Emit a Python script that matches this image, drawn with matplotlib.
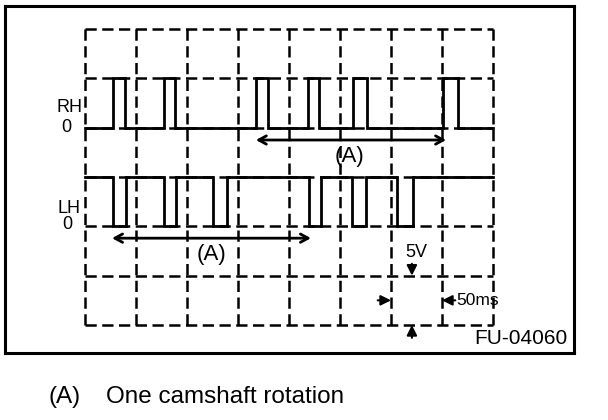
import matplotlib
matplotlib.use('Agg')
import matplotlib.pyplot as plt

plt.rcParams['font.family'] = ['Liberation Sans', 'DejaVu Sans']

# ── Data (grid divisions: 8 x 50ms, 6 x 5V) ──
n_cols = 8
n_rows = 6
rh_zero, rh_high = 4, 5
lh_zero, lh_high = 2, 3
# RH: short high pulses (rise, fall)
rh_pulses = [(0.54, 0.79), (1.54, 1.77), (3.35, 3.59), (4.37, 4.59),
             (5.25, 5.53), (7.02, 7.31)]
# LH: short low pulses (fall, rise)
lh_pulses = [(0.54, 0.80), (1.54, 1.78), (2.51, 2.78), (4.39, 4.63),
             (5.24, 5.51), (6.12, 6.43)]
rh_span = (3.35, 7.08)   # one camshaft rotation, RH
lh_span = (0.53, 4.43)   # one camshaft rotation, LH


def square_wave(pulses, idle, active, x_end):
    xs, ys = [0], [idle]
    for a, b in pulses:
        xs += [a, a, b, b]
        ys += [idle, active, active, idle]
    xs.append(x_end)
    ys.append(idle)
    return xs, ys


fig = plt.figure(figsize=(6.08, 4.2), dpi=100)
ax = fig.add_axes([5 / 608, 1 - 353 / 420, 569 / 608, 347 / 420])
ax.set_xlim(-80 / 51, 489 / 51)
ax.set_ylim(-28 / 49.33, 319 / 49.33)
ax.set_xticks([])
ax.set_yticks([])
for s in ax.spines.values():
    s.set_linewidth(2.2)

# dashed scope grid
dash = (0, (4.5, 2.2))
ax.vlines(range(n_cols + 1), 0, n_rows, colors='black', linewidth=1.8, linestyles=dash, zorder=1)
ax.hlines(range(n_rows + 1), 0, n_cols, colors='black', linewidth=1.8, linestyles=dash, zorder=1)

# signals
x, y = square_wave(rh_pulses, rh_zero, rh_high, n_cols)
ax.plot(x, y, color='black', linewidth=2, zorder=3, solid_joinstyle='miter')
x, y = square_wave(lh_pulses, lh_high, lh_zero, n_cols)
ax.plot(x, y, color='black', linewidth=2, zorder=3, solid_joinstyle='miter')

# channel labels
ax.text(-0.04, rh_zero + 0.40, 'RH', ha='right', va='center', fontsize=13)
ax.text(-0.37, rh_zero + 0.01, '0', ha='center', va='center', fontsize=13)
ax.text(-0.08, lh_zero + 0.37, 'LH', ha='right', va='center', fontsize=13)
ax.text(-0.35, lh_zero + 0.03, '0', ha='center', va='center', fontsize=13)

# (A) spans
span_style = dict(arrowstyle='<->,head_length=0.55,head_width=0.3', color='black',
                  linewidth=2, shrinkA=0, shrinkB=0)
ax.annotate('', xy=(rh_span[1], 3.75), xytext=(rh_span[0], 3.75), arrowprops=span_style)
ax.text(5.18, 3.41, '(A)', ha='center', va='center', fontsize=16)
ax.annotate('', xy=(lh_span[1], 1.76), xytext=(lh_span[0], 1.76), arrowprops=span_style)
ax.text(2.49, 1.42, '(A)', ha='center', va='center', fontsize=16)

# scale markers
small = dict(arrowstyle='-|>,head_length=0.5,head_width=0.25', color='black',
             linewidth=1.5, shrinkA=0, shrinkB=0, mutation_scale=12)
ax.text(6.49, 1.46, '5V', ha='center', va='center', fontsize=13)
ax.annotate('', xy=(6.41, 1.0), xytext=(6.41, 1.24), arrowprops=small)
ax.annotate('', xy=(6.41, 0.0), xytext=(6.41, -0.26), arrowprops=small)
ax.annotate('', xy=(6.0, 0.5), xytext=(5.74, 0.5), arrowprops=small)
ax.annotate('', xy=(7.0, 0.5), xytext=(7.26, 0.5), arrowprops=small)
ax.text(7.28, 0.5, '50ms', ha='left', va='center', fontsize=12.5)

ax.text(9.47, -0.28, 'FU-04060', ha='right', va='center', fontsize=15)

# caption
fig.text(48 / 608, 1 - 397 / 420, '(A)', ha='left', va='center', fontsize=17.5)
fig.text(106 / 608, 1 - 397 / 420, 'One camshaft rotation', ha='left', va='center', fontsize=17.5)

plt.savefig('out.png', dpi=100)
